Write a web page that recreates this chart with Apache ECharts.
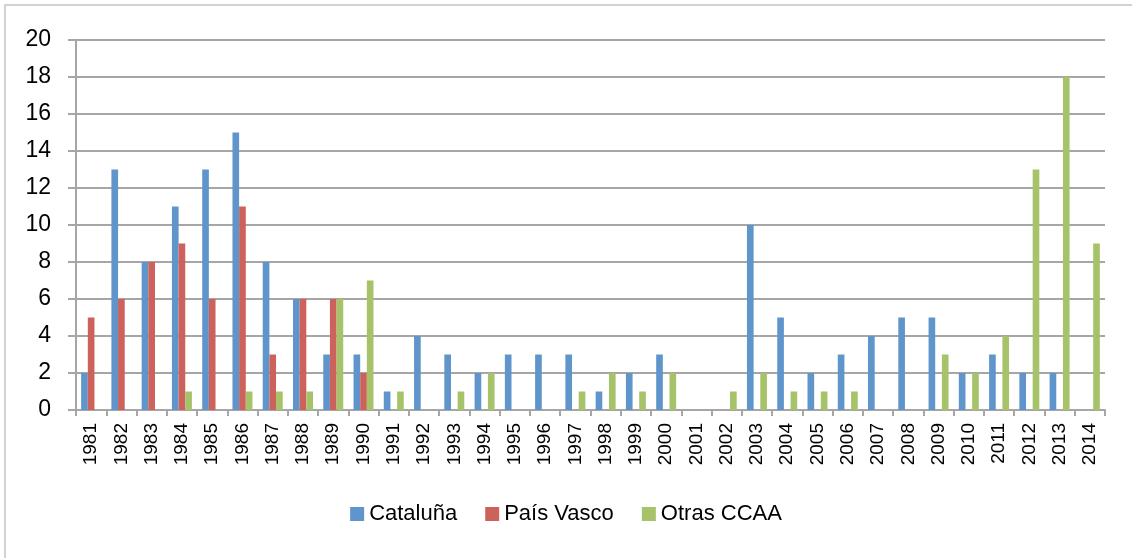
<!DOCTYPE html>
<html>
<head>
<meta charset="utf-8">
<script src="https://cdn.jsdelivr.net/npm/echarts@6/dist/echarts.min.js"></script>
<style>
  html, body { margin: 0; padding: 0; background: #fff; }
  #chart { width: 1132px; height: 558px; }
</style>
</head>
<body>
<div id="chart"></div>
<script>
const years = ['1981', '1982', '1983', '1984', '1985', '1986', '1987', '1988', '1989', '1990',
  '1991', '1992', '1993', '1994', '1995', '1996', '1997', '1998', '1999', '2000',
  '2001', '2002', '2003', '2004', '2005', '2006', '2007', '2008', '2009', '2010',
  '2011', '2012', '2013', '2014']
const cataluna = [2, 13, 8, 11, 13, 15, 8, 6, 3, 3, 1, 4, 3, 2, 3, 3, 3, 1, 2, 3,
  0, 0, 10, 5, 2, 3, 4, 5, 5, 2, 3, 2, 2, 0]
const paisVasco = [5, 6, 8, 9, 6, 11, 3, 6, 6, 2, 0, 0, 0, 0, 0, 0, 0, 0, 0, 0,
  0, 0, 0, 0, 0, 0, 0, 0, 0, 0, 0, 0, 0, 0]
const otras = [0, 0, 0, 1, 0, 1, 1, 1, 6, 7, 1, 0, 1, 2, 0, 0, 1, 2, 1, 2,
  0, 1, 2, 1, 1, 1, 0, 0, 3, 2, 4, 13, 18, 9]
const yTicks = [0, 20, 2]  // min, max, interval

const font = 'Liberation Sans'
const gridColor = '#a6a6a6'

const chart = echarts.init(document.getElementById('chart'))

const bar = (name, data, color) => ({
  name,
  type: 'bar',
  data,
  barGap: '0%',
  barCategoryGap: '34%',
  itemStyle: { color }
})

chart.setOption({
  animation: false,
  textStyle: { fontFamily: font, color: '#000' },
  graphic: [{
    type: 'rect',
    shape: { x: 5, y: 5, width: 1200, height: 700 },
    style: { fill: 'none', stroke: '#c4c4c4', lineWidth: 1.5 },
    silent: true
  }],
  grid: { left: 76, right: 27, top: 40, bottom: 148 },
  legend: {
    bottom: 28,
    left: 'center',
    itemWidth: 14,
    itemHeight: 14,
    itemGap: 28,
    icon: 'rect',
    textStyle: { fontFamily: font, fontSize: 22, color: '#000' },
    data: ['Cataluña', 'País Vasco', 'Otras CCAA']
  },
  xAxis: {
    type: 'category',
    data: years,
    axisLine: { lineStyle: { color: gridColor, width: 2 } },
    axisTick: { show: true, length: 6, lineStyle: { color: gridColor, width: 2 } },
    axisLabel: { rotate: 90, fontSize: 19, color: '#000', margin: 13, fontFamily: font, interval: 0 }
  },
  yAxis: {
    type: 'value',
    min: yTicks[0],
    max: yTicks[1],
    interval: yTicks[2],
    axisLine: { show: true, lineStyle: { color: gridColor, width: 2 } },
    axisTick: { show: true, length: 8, lineStyle: { color: gridColor, width: 2 } },
    axisLabel: { fontSize: 23, color: '#000', margin: 25, fontFamily: font },
    splitLine: { lineStyle: { color: gridColor, width: 2 } }
  },
  series: [
    bar('Cataluña', cataluna, '#5f95cb'),
    bar('País Vasco', paisVasco, '#cd615c'),
    bar('Otras CCAA', otras, '#a7c36a')
  ]
})
</script>
</body>
</html>
